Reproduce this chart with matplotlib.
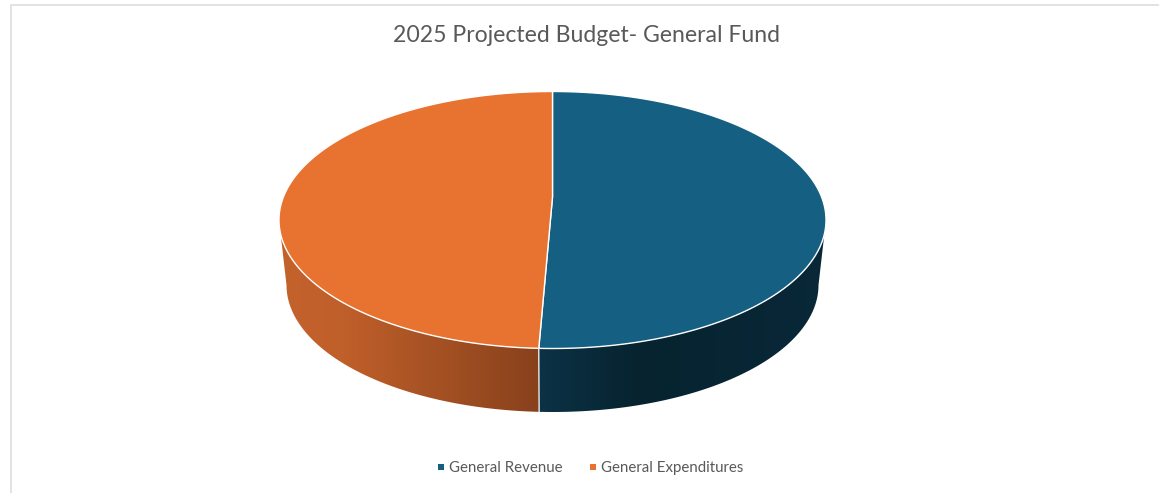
import matplotlib
matplotlib.use("Agg")
import matplotlib.pyplot as plt
from matplotlib.colors import LinearSegmentedColormap
from matplotlib.patches import Polygon
import numpy as np

title = "2025 Projected Budget- General Fund"
labels = ["General Revenue", "General Expenditures"]
# shares, percent
values = [50.8, 49.2]
colors = ["#156082", "#E8722F"]

# side gradient, position along x (0-1 inside slice) -> colour
side_stops = [
    [(0.0, "#0C3246"), (0.35, "#06232F"), (1.0, "#092838")],
    [(0.0, "#C4622C"), (0.25, "#BF5F2A"), (1.0, "#88411C")],
]

W, H = 1159, 493
cx, cy, rx, ry = 552.5, 220, 273.5, 128.5
apex_y = 197
bcy, brx, bry = 285, 266, 127


def top_pt(t):
    return cx + rx * np.sin(t), cy - ry * np.cos(t)


def bot_pt(t):
    return cx + brx * np.sin(t), bcy - bry * np.cos(t)


plt.rcParams["font.family"] = ["Lato", "DejaVu Sans"]

fig = plt.figure(figsize=(W / 100, H / 100), dpi=100)
ax = fig.add_axes([0, 0, 1, 1])
ax.axis("off")

# chart frame, only left and top show
ax.plot([11, 11, W], [H, 4.5, 4.5], color="#E2E2E2", lw=1.4, solid_joinstyle="miter")

edges = np.cumsum([0] + values) / np.sum(values) * 2 * np.pi

# side walls, gradient image clipped to the wall outline
for i in range(len(values)):
    a = max(edges[i], np.pi / 2)
    b = min(edges[i + 1], 3 * np.pi / 2)
    ts = np.linspace(a, b, 200)
    tx, ty = top_pt(ts)
    bx, by = bot_pt(ts)
    outline = np.c_[np.r_[tx, bx[::-1]], np.r_[ty, by[::-1]]]
    x0, x1 = outline[:, 0].min(), outline[:, 0].max()
    cmap = LinearSegmentedColormap.from_list("side%d" % i, side_stops[i])
    im = ax.imshow(np.linspace(0, 1, 512)[None, :], cmap=cmap, aspect="auto",
                   extent=[x0, x1, outline[:, 1].max(), outline[:, 1].min()])
    clip = Polygon(outline, transform=ax.transData, facecolor="none", edgecolor="none")
    ax.add_patch(clip)
    im.set_clip_path(clip)

ax.set_xlim(0, W)
ax.set_ylim(H, 0)

# line between the two walls
b = edges[1]
ax.plot([top_pt(b)[0], bot_pt(b)[0]], [top_pt(b)[1], bot_pt(b)[1]], color="#E8E8E8", lw=1)

# top face
for i in range(len(values)):
    ts = np.linspace(edges[i], edges[i + 1], 300)
    xs, ys = top_pt(ts)
    ax.fill(np.r_[cx, xs], np.r_[apex_y, ys], facecolor=colors[i], edgecolor="white", lw=1, joinstyle="round")

ax.text(586.5, 35.5, title, ha="center", va="center", fontsize=16.6, color="#595959")

# legend
leg_x = [441, 593]
for x, lab, c in zip(leg_x, labels, colors):
    ax.scatter([x], [467], marker="s", s=20, color=c, lw=0)
    ax.text(x + 8, 467.8, lab, ha="left", va="center", fontsize=10.85, color="#595959")

fig.savefig("out.png", dpi=100)
